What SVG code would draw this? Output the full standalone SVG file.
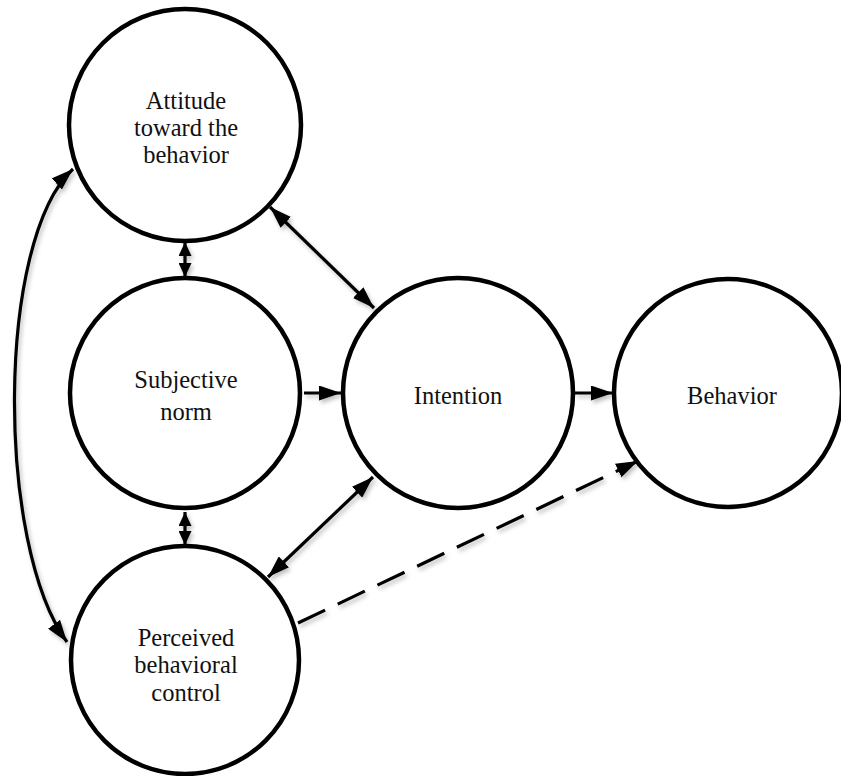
<svg xmlns="http://www.w3.org/2000/svg" width="841" height="776" viewBox="0 0 841 776">
<style>
.node circle{fill:#fff;stroke:#000;stroke-width:4.5}
.node text{font-size:24.5px;fill:#111;text-anchor:middle}
.conn path{fill:none;stroke:#000;stroke-width:3.2}
.dash{stroke-dasharray:30 14}
</style>
<defs>
<filter id="sh" x="-20%" y="-20%" width="140%" height="140%">
<feDropShadow dx="2" dy="3" stdDeviation="2" flood-color="#000" flood-opacity="0.25"/>
</filter>
<marker id="ah" markerUnits="userSpaceOnUse" markerWidth="22" markerHeight="15" refX="22" refY="7.5" orient="auto-start-reverse" viewBox="0 0 22 15">
<path d="M0,0 L22,7.5 L0,15 z" fill="#000"/>
</marker>
<marker id="ahs" markerUnits="userSpaceOnUse" markerWidth="14" markerHeight="13" refX="14" refY="6.5" orient="auto-start-reverse" viewBox="0 0 14 13">
<path d="M0,0 L14,6.5 L0,13 z" fill="#000"/>
</marker>
</defs>
<g id="connectors" class="conn" filter="url(#sh)">
<path d="M185,242 L185,277" marker-start="url(#ahs)" marker-end="url(#ahs)"/>
<path d="M185,512 L185,545" marker-start="url(#ahs)" marker-end="url(#ahs)"/>
<path d="M270,207 L374,308" marker-start="url(#ah)" marker-end="url(#ah)"/>
<path d="M304,393 L341,393" marker-end="url(#ah)"/>
<path d="M575,393 L613,393" marker-end="url(#ah)"/>
<path d="M268,577 L373,477" marker-start="url(#ah)" marker-end="url(#ah)"/>
<path class="dash" d="M298,623 L638,461" marker-end="url(#ah)"/>
<path d="M73,169 C -4,240 -4,545 67,642" marker-start="url(#ah)" marker-end="url(#ah)"/>
</g>
<g id="attitude" class="node" font-family="'Liberation Serif', 'Times New Roman', 'DejaVu Serif', serif">
<circle cx="185" cy="125" r="116"/>
<text x="186" y="109">Attitude</text>
<text x="186" y="136">toward the</text>
<text x="186" y="163">behavior</text>
</g>
<g id="subjective-norm" class="node" font-family="'Liberation Serif', 'Times New Roman', 'DejaVu Serif', serif">
<circle cx="185" cy="393" r="115"/>
<text x="186" y="388">Subjective</text>
<text x="186" y="420">norm</text>
</g>
<g id="perceived-control" class="node" font-family="'Liberation Serif', 'Times New Roman', 'DejaVu Serif', serif">
<circle cx="185" cy="660" r="114"/>
<text x="186" y="646">Perceived</text>
<text x="186" y="673">behavioral</text>
<text x="186" y="701">control</text>
</g>
<g id="intention" class="node" font-family="'Liberation Serif', 'Times New Roman', 'DejaVu Serif', serif">
<circle cx="458" cy="393" r="115"/>
<text x="458" y="404">Intention</text>
</g>
<g id="behavior" class="node" font-family="'Liberation Serif', 'Times New Roman', 'DejaVu Serif', serif">
<circle cx="728" cy="393" r="114"/>
<text x="732" y="404">Behavior</text>
</g>
</svg>
